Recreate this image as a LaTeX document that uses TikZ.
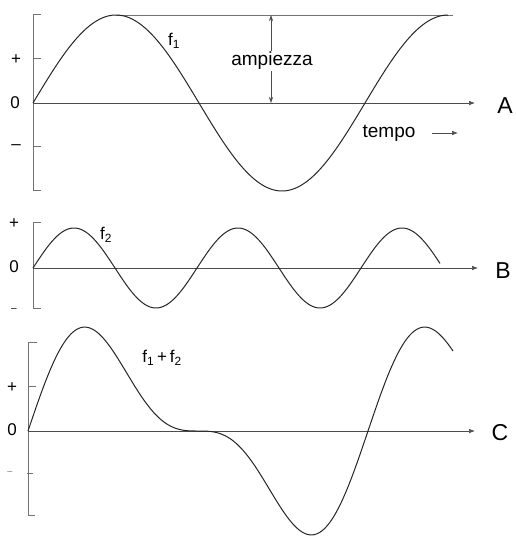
\documentclass[tikz,border=0pt]{standalone}
\usepackage{fontspec}
\setmainfont{Liberation Sans}
\usetikzlibrary{arrows.meta}
\begin{document}
\begin{tikzpicture}[x=1pt,y=-1pt,
  curve/.style={line width=1pt, black!85, line join=round},
  axis/.style={line width=0.6pt, black!55},
  tickmark/.style={line width=0.6pt, black!55},
  arr/.style={-{Latex[length=6pt,width=4.5pt]}, line width=0.6pt, black!70},
  darr/.style={{Stealth[length=6pt,width=4pt]}-{Stealth[length=6pt,width=4pt]}, line width=0.6pt, black!70},
  lbl/.style={font=\fontsize{17}{17}\selectfont, inner sep=0pt},
  big/.style={font=\fontsize{23}{23}\selectfont, inner sep=0pt},
  word/.style={font=\fontsize{19}{19}\selectfont, inner sep=1pt}]
\useasboundingbox (0,0) rectangle (515,538);

% ---------- Panel A ----------
\coordinate (Atop) at (33,14);
\coordinate (Abot) at (33,190);
\coordinate (A0) at (33,103);
\coordinate (Aend) at (475,103);
\draw[axis] (Atop) -- (Abot);
\foreach \yy in {14,58,146,190} \draw[tickmark] (33,\yy) -- (41,\yy);
\draw[arr] (A0) -- (Aend);
\node[big] (LA) at (505,106) {A};
\node[lbl] (Aplus) at (16,60) {+};
\node[lbl] (Azero) at (15,103) {0};
\node[lbl] (Aminus) at (16,147) {–};
\coordinate (Pk1) at (116,15);
\coordinate (TopR) at (453,15);
\draw[axis] (Pk1) -- (TopR);
\draw[curve] plot[domain=0:415, samples=200] ({33+\x},{103-88*sin(\x/332*360)});
\coordinate (amT) at (271,15);
\coordinate (amB) at (271,103);
\draw[darr] (amT) -- (amB);
\node[word, fill=white] (amp) at (272,61) {ampiezza};
\node[lbl] (f1) at (174,41) {f\textsubscript{1}};
\node[word] (tempo) at (389,133) {tempo};
\coordinate (tA) at (432,133);
\coordinate (tB) at (458,133);
\draw[arr] (tA) -- (tB);

% ---------- Panel B ----------
\coordinate (Btop) at (33,222);
\coordinate (Bbot) at (33,308);
\coordinate (B0) at (33,268);
\coordinate (Bend) at (478,268);
\draw[axis] (Btop) -- (Bbot);
\foreach \yy in {222,308} \draw[tickmark] (33,\yy) -- (41,\yy);
\draw[arr] (B0) -- (Bend);
\node[big] (LB) at (503,271) {B};
\node[lbl] (Bplus) at (14,224) {+};
\node[lbl] (Bzero) at (14,267) {0};
\node[font=\fontsize{10}{10}\selectfont, inner sep=0pt] (Bminus) at (14,310) {–};
\draw[curve] plot[domain=0:407, samples=220] ({33+\x},{268-40*sin(\x/164*360)});
\node[lbl] (f2) at (106,235) {f\textsubscript{2}};

% ---------- Panel C ----------
\coordinate (Ctop) at (28,342);
\coordinate (Cbot) at (28,515);
\coordinate (C0) at (28,431);
\coordinate (Cend) at (475,431);
\draw[axis] (Ctop) -- (Cbot);
\draw[tickmark] (29,342) -- (37,342);
\draw[tickmark] (28,386) -- (36,386);
\draw[tickmark] (27,473) -- (33,473);
\draw[tickmark] (28,515) -- (35,515);
\draw[arr] (C0) -- (Cend);
\node[big] (LC) at (500,433) {C};
\node[lbl] (Cplus) at (12,388) {+};
\node[lbl] (Czero) at (12,430) {0};
\node[font=\fontsize{9}{9}\selectfont, inner sep=0pt, black!60] (Cminus) at (10,473) {–};
\draw[curve] plot[domain=0:425, samples=260] ({28+\x},{431-80*(sin(\x/340*360)+0.5*sin(\x/340*720))});
\node[lbl] (f12) at (162,358) {f\textsubscript{1}\,+\,f\textsubscript{2}};
\end{tikzpicture}
\end{document}
